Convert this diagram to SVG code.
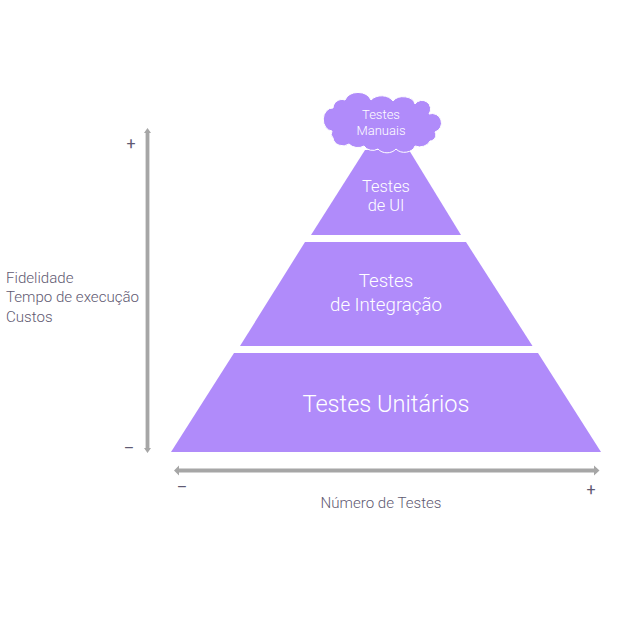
<svg xmlns="http://www.w3.org/2000/svg" width="640" height="640" viewBox="0 0 640 640">
<style>
.lvl{fill:#b08bfa}
.w{fill:#fff;font-family:"Roboto","Open Sans",sans-serif;font-weight:300;text-anchor:middle}
.g{fill:#5f5a72;font-family:"Roboto","Open Sans",sans-serif;font-weight:300;font-size:15.1px}
.ax{fill:#a6a6a6}
.sign{fill:#5f5a72;font-family:"Roboto","Open Sans",sans-serif;font-weight:400;font-size:16px;text-anchor:middle}
</style>
<rect width="640" height="640" fill="#fff"/>
<g id="connectors">
<path class="ax" d="M147.500 128l3.500 5h-1.600v315h1.600l-3.500 5l-3.500-5h1.600v-315h-1.600z"/>
<path class="ax" d="M174 470.500l5-5v3h415v-3l5.500 5l-5.500 5v-3h-415v3z"/>
</g>
<g id="ui"><path class="lvl" d="M365 150L409 150L461 235H311Z"/>
<text class="w" x="386" y="192" font-size="16.400">Testes</text><text class="w" x="386" y="211" font-size="16.400">de UI</text></g>
<g id="integracao"><path class="lvl" d="M305 242H466L532.500 346H240Z"/>
<text class="w" x="386" y="287" font-size="18.700">Testes</text><text class="w" x="386" y="311" font-size="18.700">de Integração</text></g>
<g id="unitarios"><path class="lvl" d="M234 353H538L601 452H171Z"/>
<text class="w" x="386" y="412" font-size="23.600">Testes Unitários</text></g>
<g id="manuais">
<path class="lvl" stroke="#fff" stroke-width="1" d="M333 108A9 9 0 0 1 345 100A14 12 0 0 1 371 100A13 10 0 0 1 393 101A12 9 0 0 1 415 104A8 8 0 0 1 429 114A9 9 0 0 1 435 132A6 6 0 0 1 430 141A11 9 0 0 1 415 146A11 9 0 0 1 396 149A11 9 0 0 1 378 149A10 9 0 0 1 364 146A11 9 0 0 1 349 144A10 9 0 0 1 333 138A6 6 0 0 1 332 131A8 10 0 0 1 333 108Z"/>
<text class="w" x="381" y="119" font-size="13">Testes</text><text class="w" x="381" y="135" font-size="13">Manuais</text></g>
<g id="labels">
<text class="g" x="6" y="283">Fidelidade</text>
<text class="g" x="6" y="302">Tempo de execução</text>
<text class="g" x="6" y="322">Custos</text>
<text class="g" x="381" y="508" text-anchor="middle">Número de Testes</text>
<text class="sign" x="131" y="149">+</text>
<text class="sign" x="129" y="454">–</text>
<text class="sign" x="182" y="493">–</text>
<text class="sign" x="591" y="495">+</text>
</g>
</svg>
